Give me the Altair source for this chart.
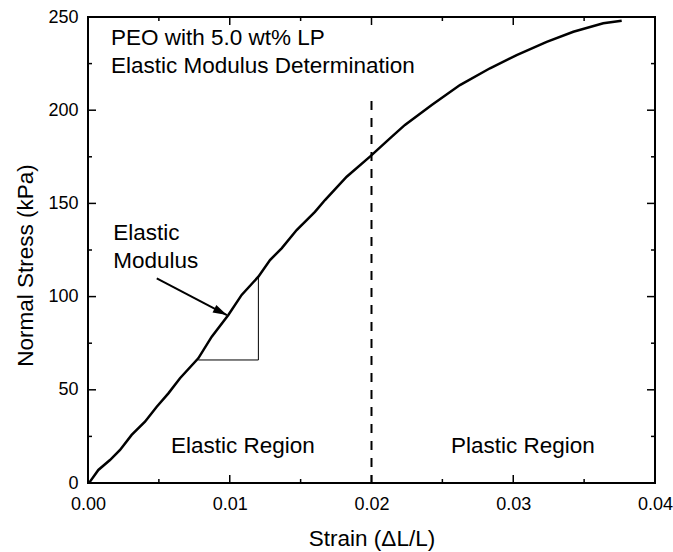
import altair as alt
import pandas as pd

# ---- data ----
strain = [0.0, 0.00014, 0.00073, 0.00155, 0.00226, 0.00308, 0.00402, 0.00485, 0.00567,
          0.00649, 0.00778, 0.00873, 0.0099, 0.01084, 0.01202, 0.01284, 0.01366, 0.01472,
          0.01601, 0.01672, 0.01825, 0.01989, 0.0213, 0.02236, 0.02425, 0.02624, 0.02836,
          0.03024, 0.03236, 0.03424, 0.03635, 0.03765]
stress = [0.0, 0.7, 7.0, 12.3, 17.7, 25.8, 32.9, 40.9, 48.1,
          56.2, 66.9, 78.5, 90.1, 100.9, 110.7, 119.6, 125.9, 135.7,
          145.5, 151.8, 164.3, 175.1, 184.9, 192.1, 202.8, 213.5, 222.5,
          229.6, 236.7, 242.1, 246.6, 248.0]

x_major = [0.0, 0.01, 0.02, 0.03, 0.04]
x_minor = [0.005, 0.015, 0.025, 0.035]
y_major = [0, 50, 100, 150, 200, 250]
y_minor = [25, 75, 125, 175, 225]

# slope triangle (strain, stress)
tri_x = [0.00778, 0.01202, 0.01202]
tri_y = [66.0, 66.0, 110.7]

# yield boundary
boundary_x = [0.02]
boundary_top = [205.0]

# arrow (start -> tip)
arrow_x = [0.00485]
arrow_y = [109.8]
arrow_x2 = [0.0098]
arrow_y2 = [90.1]

# annotations
ann_text = ["PEO with 5.0 wt% LP", "Elastic Modulus Determination", "Elastic", "Modulus",
            "Elastic Region", "Plastic Region"]
ann_x = [0.00162, 0.00162, 0.00178, 0.00178, 0.00586, 0.02561]
ann_y = [235.0, 220.1, 130.4, 115.2, 16.3, 16.3]

# ---- chart ----
W, H = 567, 466
FONT = "Liberation Sans"
xs = alt.Scale(domain=[0, 0.04], nice=False, zero=False)
ys = alt.Scale(domain=[0, 250], nice=False, zero=False)

x_axis = alt.Axis(
    values=x_major, format=".2f", ticks=False, tickSize=0, domain=False, grid=False,
    labelFlush=False, labelFontSize=18, labelPadding=12, labelColor="black",
    title="Strain (\u0394L/L)", titleFontSize=22.5, titleFontWeight="normal",
    titleColor="black", titleBaseline="alphabetic", titleY=62)
y_axis = alt.Axis(
    values=y_major, format="d", ticks=False, tickSize=0, domain=False, grid=False,
    labelFlush=False, labelFontSize=18, labelPadding=10, labelColor="black",
    title="Normal Stress (kPa)", titleFontSize=22.5, titleFontWeight="normal",
    titleColor="black", titleAngle=-90, titleBaseline="alphabetic",
    titleX=-56, titleY=248, titleAlign="center")


def X(f):
    return alt.X(f, type="quantitative", scale=xs, axis=x_axis)


def Y(f):
    return alt.Y(f, type="quantitative", scale=ys, axis=y_axis)


curve_df = pd.DataFrame({"strain": strain, "stress": stress})
curve = alt.Chart(curve_df).mark_line(color="black", strokeWidth=2.5).encode(
    x=X("strain"), y=Y("stress"), order=alt.Order("strain:Q"))

layers = [curve]

# inward ticks on all four sides
for vals, ln in ((x_major, 8), (x_minor, 4)):
    df = pd.DataFrame({"v": vals})
    layers.append(alt.Chart(df).mark_rule(color="black", strokeWidth=1.5).encode(
        x=X("v"), y=alt.value(H), y2=alt.value(H - ln)))
    layers.append(alt.Chart(df).mark_rule(color="black", strokeWidth=1.5).encode(
        x=X("v"), y=alt.value(0), y2=alt.value(ln)))
for vals, ln in ((y_major, 8), (y_minor, 4)):
    df = pd.DataFrame({"v": vals})
    layers.append(alt.Chart(df).mark_rule(color="black", strokeWidth=1.5).encode(
        y=Y("v"), x=alt.value(0), x2=alt.value(ln)))
    layers.append(alt.Chart(df).mark_rule(color="black", strokeWidth=1.5).encode(
        y=Y("v"), x=alt.value(W), x2=alt.value(W - ln)))

# slope triangle
tri_df = pd.DataFrame({"x": tri_x, "y": tri_y, "o": list(range(len(tri_x)))})
layers.append(alt.Chart(tri_df).mark_line(color="black", strokeWidth=1).encode(
    x=X("x"), y=Y("y"), order="o:O"))

# dashed boundary
bd_df = pd.DataFrame({"x": boundary_x, "top": boundary_top, "bot": [0.0]})
layers.append(alt.Chart(bd_df).mark_rule(color="black", strokeWidth=2, strokeDash=[9, 8]).encode(
    x=X("x"), y=Y("top"), y2="bot:Q"))

# arrow
ar_df = pd.DataFrame({"x": arrow_x, "y": arrow_y, "x2": arrow_x2, "y2": arrow_y2})
layers.append(alt.Chart(ar_df).mark_rule(color="black", strokeWidth=2).encode(
    x=X("x"), y=Y("y"), x2="x2:Q", y2="y2:Q"))
layers.append(alt.Chart(ar_df).mark_point(
    shape="M0,0L-1,-0.3L-1,0.3Z", filled=True, color="black", opacity=1,
    size=784, angle=27, strokeWidth=0).encode(x=X("x2"), y=Y("y2")))

# annotations
ann_df = pd.DataFrame({"t": ann_text, "x": ann_x, "y": ann_y})
layers.append(alt.Chart(ann_df).mark_text(
    align="left", baseline="alphabetic", fontSize=22.5, font=FONT, color="black").encode(
    x=X("x"), y=Y("y"), text="t:N"))

chart = alt.layer(*layers).properties(
    width=W, height=H,
    autosize="none",
    padding={"left": 88, "top": 17, "right": 18, "bottom": 69},
    background="white",
).configure_view(stroke="black", strokeWidth=2).configure_axis(
    labelFont=FONT, titleFont=FONT)

chart.save("out.html", embed_options={"renderer": "svg", "actions": False})
